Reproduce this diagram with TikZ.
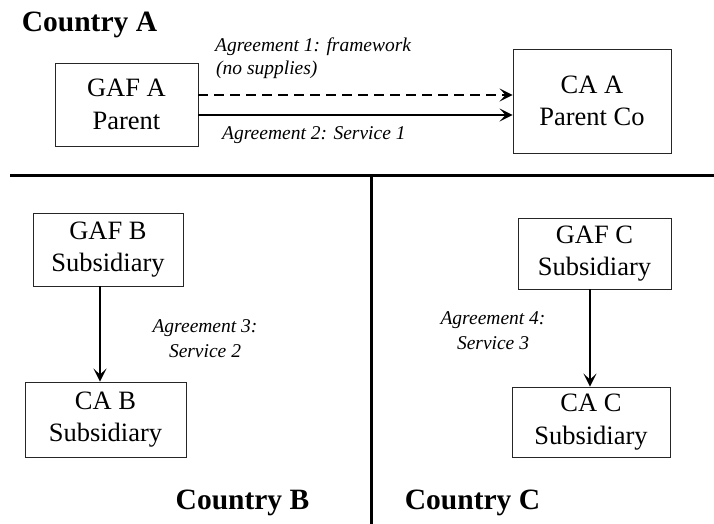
\documentclass[tikz,border=0pt]{standalone}
\usepackage{fontspec}
\setmainfont{Liberation Serif}
\usetikzlibrary{arrows.meta}
\tikzset{
  entity/.style={draw=black!85, line width=0.9pt, inner sep=0pt, align=center,
    font=\fontsize{26.5}{32.5}\selectfont},
  agr/.style={font=\itshape\fontsize{19.5}{24}\selectfont, inner sep=0pt},
  country/.style={font=\bfseries\fontsize{29.5}{32}\selectfont, inner sep=0pt, anchor=base},
  flow/.style={line width=2.4pt, -{Stealth[length=13pt,width=13pt,inset=6pt]}},
  divider/.style={line width=3pt}
}
\begin{document}
\begin{tikzpicture}[x=1pt,y=1pt]
\useasboundingbox (0,0) rectangle (714,524);
% dividers
\coordinate (hl) at (10,348);
\coordinate (hr) at (714,348);
\coordinate (vt) at (371,348);
\coordinate (vb) at (371,0);
\draw[divider] (hl) -- (hr);
\draw[divider] (vt) -- (vb);
% country labels
\node[country] (cA) at (89.5,492) {Country A};
\node[country] (cB) at (242.5,14) {Country B};
\node[country] (cC) at (472.5,14) {Country C};
% boxes
\node[entity, minimum width=143pt, minimum height=83pt] (gafa) at (126.5,419.5) {GAF A\\Parent};
\node[entity, minimum width=158pt, minimum height=104pt] (caa) at (592,423) {CA A\\Parent Co};
\node[entity, minimum width=150pt, minimum height=73pt] (gafb) at (108,274.5) {GAF B\\Subsidiary};
\node[entity, minimum width=161pt, minimum height=75pt] (cab) at (105.5,104.5) {CA B\\Subsidiary};
\node[entity, minimum width=153pt, minimum height=71pt] (gafc) at (594.5,270.5) {GAF C\\Subsidiary};
\node[entity, minimum width=158pt, minimum height=70pt] (cac) at (591,102) {CA C\\Subsidiary};
% arrows
\draw[flow, dash pattern=on 10pt off 6pt] ([yshift=9.5pt]gafa.east) -- ([yshift=9.5pt]gafa.east -| caa.west);
\draw[flow] ([yshift=-10.5pt]gafa.east) -- ([yshift=-10.5pt]gafa.east -| caa.west);
\draw[flow] ([xshift=-8pt]gafb.south) -- ([xshift=-8pt]gafb.south |- cab.north);
\draw[flow] ([xshift=-4.5pt]gafc.south) -- ([xshift=-4.5pt]gafc.south |- cac.north);
% agreement labels
\node[agr, anchor=base west] (a1) at (215,472) {Agreement 1: framework};
\node[agr, anchor=base west] (a1b) at (216,449) {(no supplies)};
\node[agr, anchor=base west] (a2) at (222,384) {Agreement 2: Service 1};
\node[agr, anchor=base] (a3) at (205,191) {Agreement 3:};
\node[agr, anchor=base] (a3b) at (205,166) {Service 2};
\node[agr, anchor=base] (a4) at (493,199) {Agreement 4:};
\node[agr, anchor=base] (a4b) at (493,174) {Service 3};
\end{tikzpicture}
\end{document}
